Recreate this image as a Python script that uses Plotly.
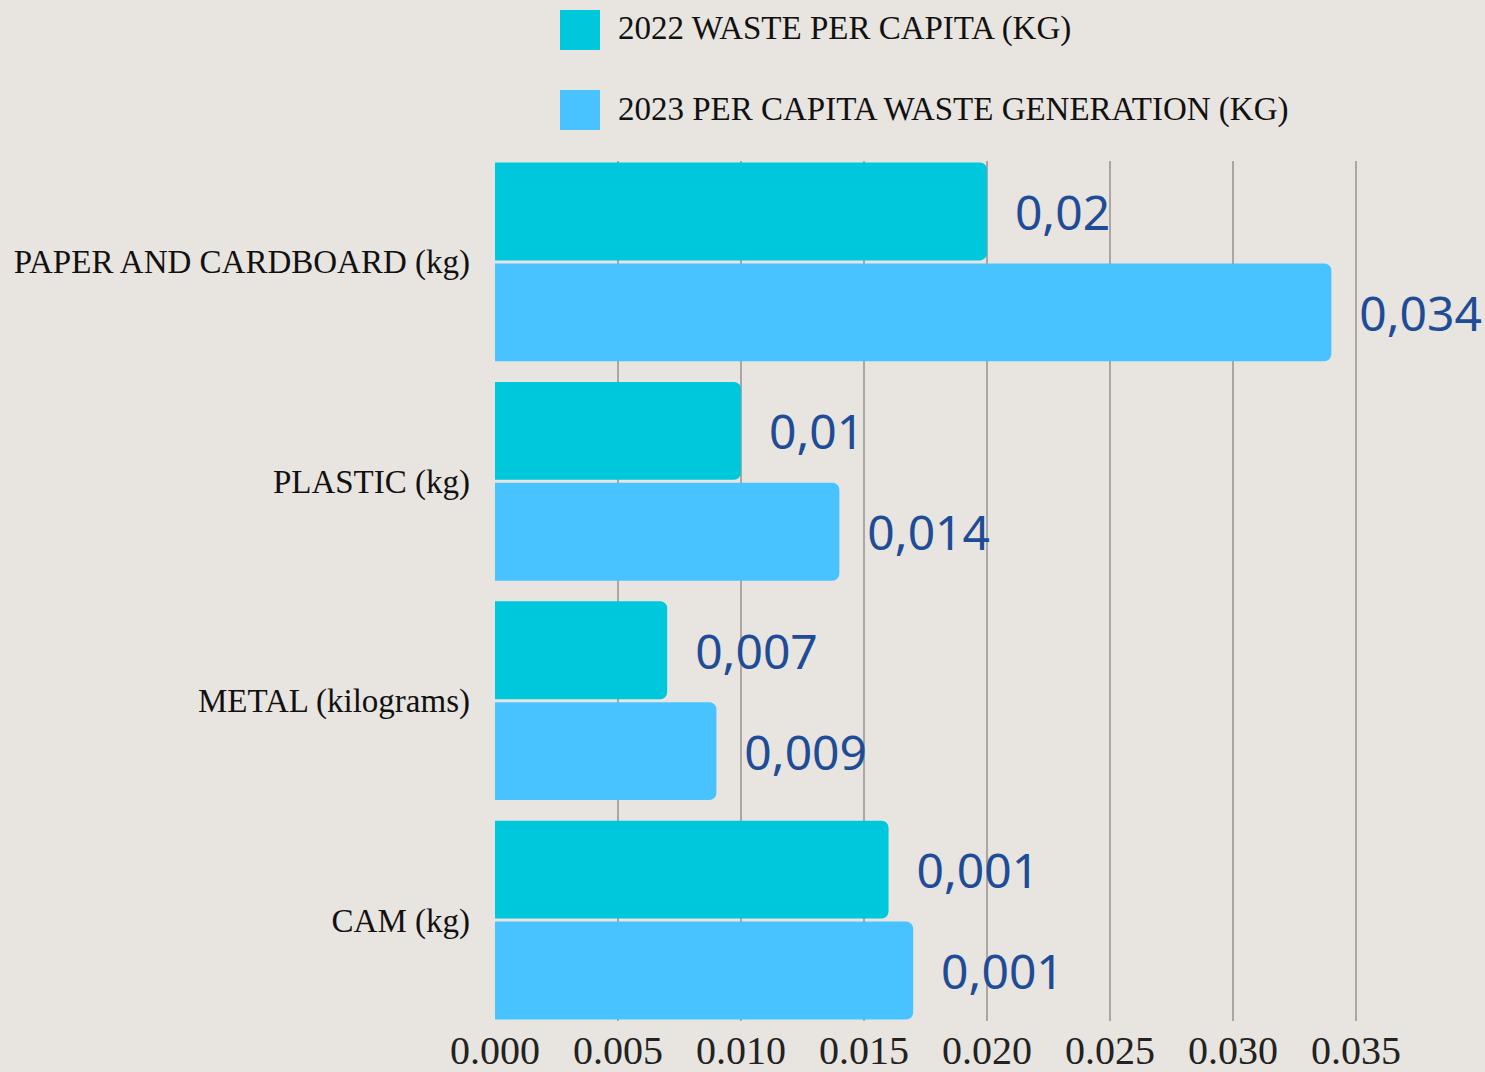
import plotly.graph_objects as go

categories = ["PAPER AND CARDBOARD (kg)", "PLASTIC (kg)", "METAL (kilograms)", "CAM (kg)"]
series_names = ["2022 WASTE PER CAPITA (KG)", "2023 PER CAPITA WASTE GENERATION (KG)"]
values_2022 = [0.020, 0.010, 0.007, 0.016]
values_2023 = [0.034, 0.014, 0.009, 0.017]
labels_2022 = ["0,02", "0,01", "0,007", "0,001"]
labels_2023 = ["0,034", "0,014", "0,009", "0,001"]
x_ticks = [0.000, 0.005, 0.010, 0.015, 0.020, 0.025, 0.030, 0.035]

colors = ["#00C8DC", "#48C3FF"]
label_color = "#1E4C96"
serif = "Liberation Serif, DejaVu Serif, serif"
sans = "Noto Sans, Open Sans, sans-serif"
BARGAP = 0.08

fig = go.Figure()
for name, vals, labs, col in [
    (series_names[0], values_2022, labels_2022, colors[0]),
    (series_names[1], values_2023, labels_2023, colors[1]),
]:
    fig.add_trace(go.Bar(
        y=categories, x=vals, name=name, orientation="h",
        marker=dict(color=col, cornerradius=7, line=dict(width=0)),
        text=labs, texttemplate="\u00a0\u00a0%{text}",
        textposition="outside", cliponaxis=False,
        constraintext="none",
        textfont=dict(family=sans, size=48, color=label_color),
        showlegend=False,
    ))

# Legend drawn as paper-anchored squares + text (plot area: y 161..1021, x 495..1442)
H = 1021 - 161
W = 1442 - 495
def py(pix):
    return (1021 - pix) / H
def px(pix):
    return (pix - 495) / W

legend_rows = [(10, 50, 29), (90, 130, 109)]
for (top, bot, mid), name, col in zip(legend_rows, series_names, colors):
    fig.add_shape(type="rect", xref="paper", yref="paper",
                  x0=px(560), x1=px(600), y0=py(bot), y1=py(top),
                  fillcolor=col, line=dict(width=0))
    fig.add_annotation(xref="paper", yref="paper", x=px(616), y=py(mid),
                       text=name, showarrow=False, xanchor="left", yanchor="middle",
                       font=dict(family=serif, size=33, color="#111111"))

half = 0.5 - BARGAP / 2
fig.update_layout(
    width=1485, height=1072,
    margin=dict(l=495, r=43, t=161, b=51),
    paper_bgcolor="#E8E4E0", plot_bgcolor="rgba(0,0,0,0)",
    barmode="group", bargap=BARGAP, bargroupgap=0.03,
    xaxis=dict(range=[0, 0.0385], tickvals=x_ticks, tickformat=".3f",
               showgrid=True, gridcolor="#ABA6A1", gridwidth=1.5,
               zeroline=False, showline=False, automargin=False,
               ticklabelstandoff=2,
               tickfont=dict(family=serif, size=40, color="#222222")),
    yaxis=dict(range=[len(categories) - 1 + half, -half],
               categoryorder="array", categoryarray=categories,
               showgrid=False, zeroline=False, showline=False, automargin=False,
               ticklabelstandoff=24,
               tickfont=dict(family=serif, size=33, color="#111111")),
)

fig.write_html("out.html")
